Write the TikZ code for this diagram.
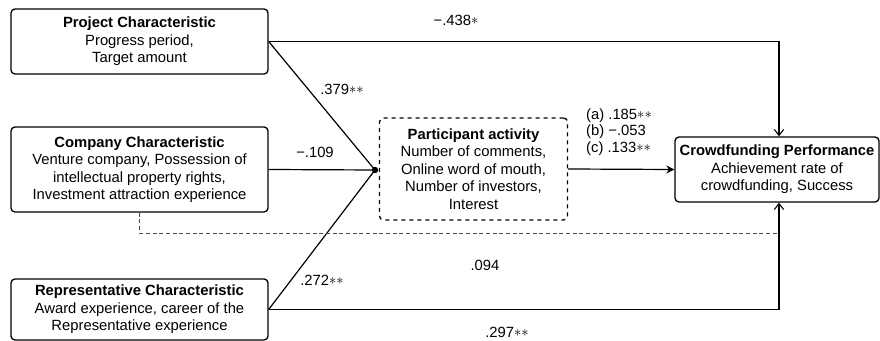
\documentclass[tikz,border=0pt]{standalone}
\usepackage{fontspec}
\setmainfont{Liberation Sans}
\usetikzlibrary{arrows.meta}
\newcommand{\sig}{\raisebox{0.1ex}{$\ast$}}
\begin{document}
\begin{tikzpicture}[x=0.75pt,y=-0.75pt,font=\fontsize{11.1}{13.1}\selectfont,
box/.style={draw,rounded corners=3pt,line width=1pt,align=center,inner sep=0pt},
link/.style={line width=0.9pt},
coef/.style={inner sep=1pt,align=left}]
\useasboundingbox (0,0) rectangle (880,341);
\node[box,minimum width=192.75pt,minimum height=48.75pt] (proj) at (139.5,41.5) {\textbf{Project Characteristic}\\Progress period,\\Target amount};
\node[box,minimum width=192.75pt,minimum height=63.75pt] (comp) at (139.5,169.5) {\textbf{Company Characteristic}\\Venture company, Possession of\\intellectual property rights,\\Investment attraction experience};
\node[box,minimum width=192.75pt,minimum height=45.75pt] (rep) at (139.5,309.5) {\textbf{Representative Characteristic}\\Award experience, career of the\\Representative experience};
\node[box,dashed,minimum width=141pt,minimum height=76.5pt] (part) at (473.5,169) {\textbf{Participant activity}\\Number of comments,\\Online word of mouth,\\Number of investors,\\Interest};
\node[box,minimum width=153pt,minimum height=48.75pt] (perf) at (777,169.5) {\textbf{Crowdfunding Performance}\\Achievement rate of\\crowdfunding, Success};
\coordinate (hub) at (375,170);
\coordinate (join) at (779,233);
\draw[link,-{Straight Barb[length=4.5pt,width=7pt,line width=0.8pt]}] (proj.east) -| ([xshift=1.5pt]perf.north);
\draw[link] (proj.east) -- (hub);
\draw[link] (comp.east) -- (hub);
\draw[link] (rep.east) -- (hub);
\fill (hub) circle[radius=2.4pt];
\draw[link,-{Stealth[length=6pt,width=6pt]}] (part.east) -- (perf.west);
\draw[line width=0.5pt,dash pattern=on 3pt off 2pt,black!70] (comp.south) |- (join);
\draw[link,-{Straight Barb[length=4.5pt,width=7pt,line width=0.8pt]}] (rep.east) -| ([xshift=1.5pt]perf.south);
\node[coef] (c1) at (456,20) {−.438\sig};
\node[coef] (c2) at (342,89) {.379\sig\sig};
\node[coef] (c3) at (315,152) {−.109};
\node[coef] (c4) at (322,280) {.272\sig\sig};
\node[coef,font=\fontsize{11.1}{12.6}\selectfont] (c5) at (619,132) {(a) .185\sig\sig\\(b) −.053\\(c) .133\sig\sig};
\node[coef] (c6) at (485,265) {.094};
\node[coef] (c7) at (507,332) {.297\sig\sig};
\end{tikzpicture}
\end{document}
